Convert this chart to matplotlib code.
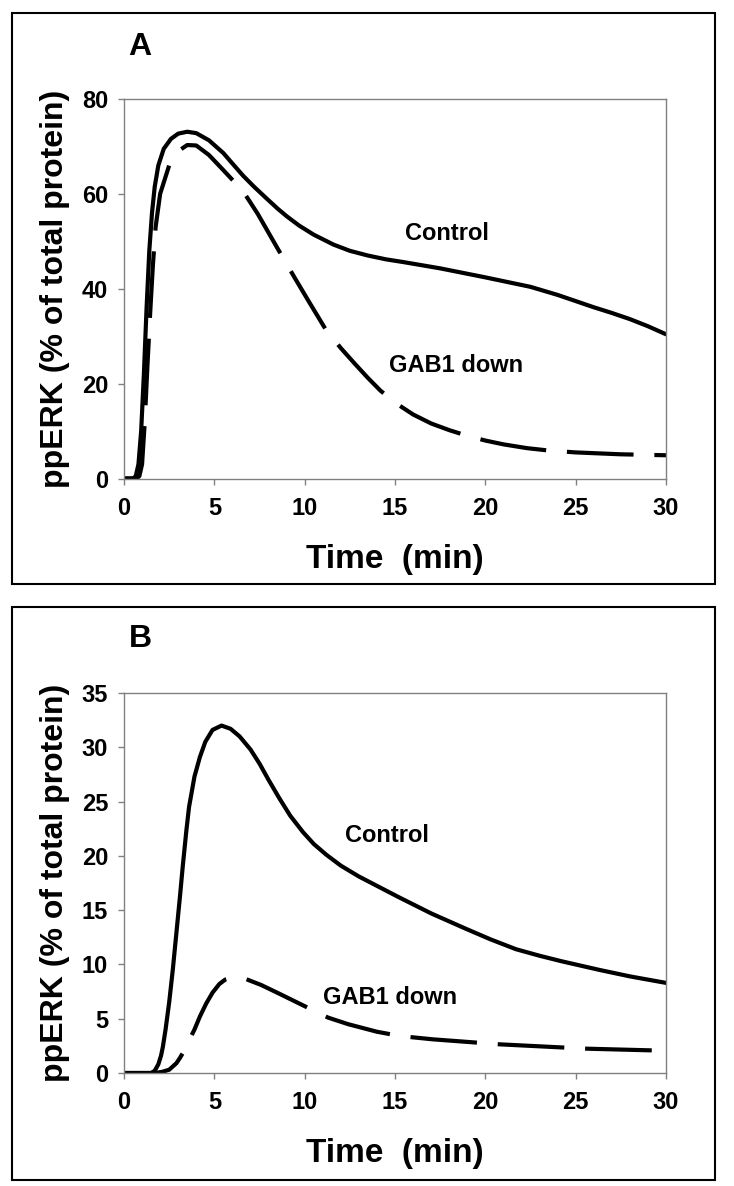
import matplotlib
matplotlib.use('Agg')
import matplotlib.pyplot as plt
from matplotlib.patches import Rectangle

plt.rcParams['font.family'] = ['Liberation Sans', 'DejaVu Sans']
plt.rcParams['font.weight'] = 'bold'

# panel A - time (min) and ppERK (% of total protein)
ctrl_a_t = [0, 0.5, 0.65, 0.8, 0.95, 1.1, 1.25, 1.4, 1.55, 1.7, 1.9, 2.2, 2.6, 3.0, 3.5, 4.0,
            4.7, 5.5, 6.0, 6.6, 7.2, 7.9, 8.5, 9.0, 9.7, 10.5, 11.6, 12.5, 13.5, 14.5, 15.5,
            17.5, 20, 21, 22.5, 24, 25, 26, 27, 28, 29, 30]
ctrl_a = [0, 0, 0.5, 3, 10, 22, 36, 48, 56, 61.5, 66, 69.5, 71.6, 72.7, 73.1, 72.8,
          71.3, 68.6, 66.4, 63.8, 61.5, 59.0, 56.9, 55.3, 53.3, 51.4, 49.3, 48.0, 47.0, 46.2, 45.6,
          44.3, 42.4, 41.6, 40.4, 38.7, 37.4, 36.1, 34.9, 33.6, 32.1, 30.4]

gab_a_t = [0, 0.7, 0.85, 1.0, 1.15, 1.3, 1.45, 1.6, 1.75, 2.0, 2.5, 3.0, 3.5, 4.0, 4.7, 5.5,
           6.6, 7.4, 8.5, 9.45, 10.2, 11.2, 12.0, 12.75, 13.5, 14.2, 15.2, 16, 17, 18, 19,
           20, 21, 22.3, 23.5, 25, 27.5, 30]
gab_a = [0, 0, 0.5, 3, 12, 24, 35, 45, 53, 60, 66, 69, 70.3, 70.2, 68.2, 65,
         60.5, 55.8, 48.5, 42.3, 37.5, 31.2, 27.5, 24.3, 21.2, 18.5, 15.5, 13.5, 11.6, 10.2, 9.0,
         8.0, 7.2, 6.4, 5.9, 5.5, 5.1, 4.9]

# panel B
ctrl_b_t = [0, 1.5, 1.7, 1.9, 2.05, 2.15, 2.3, 2.5, 2.7, 2.9, 3.1, 3.25, 3.45, 3.6, 3.9, 4.2,
            4.5, 4.9, 5.4, 5.9, 6.4, 7.0, 7.5, 8.0, 8.6, 9.2, 9.9, 10.5, 11.2, 12.0, 13.0,
            15.2, 17, 18.9, 20.3, 21.7, 23, 24.2, 26.3, 28, 30]
ctrl_b = [0, 0, 0.2, 0.8, 1.6, 2.4, 4.0, 6.5, 9.5, 12.9, 16.3, 19, 22.3, 24.5, 27.3, 29.1,
          30.5, 31.6, 32.0, 31.7, 31.0, 29.8, 28.5, 27.0, 25.3, 23.7, 22.2, 21.1, 20.1, 19.1, 18.1,
          16.2, 14.7, 13.3, 12.3, 11.4, 10.8, 10.3, 9.5, 8.9, 8.3]

gab_b_t = [0, 1.7, 2.1, 2.5, 2.9, 3.1, 3.35, 3.6, 3.9, 4.2, 4.55, 4.9, 5.28, 5.6, 6.0, 6.6,
           7.6, 8.6, 9.7, 11.3, 12.4, 14, 15.3, 17.1, 20.8, 25.6, 30]
gab_b = [0, 0, 0.1, 0.3, 0.9, 1.4, 2.1, 3.0, 4.0, 5.2, 6.4, 7.4, 8.2, 8.6, 8.8, 8.75,
         8.1, 7.3, 6.4, 5.1, 4.5, 3.8, 3.4, 3.1, 2.64, 2.24, 2.05]

x_ticks = [0, 5, 10, 15, 20, 25, 30]
y_ticks_a = [0, 20, 40, 60, 80]
y_ticks_b = [0, 5, 10, 15, 20, 25, 30, 35]

W, H = 734, 1186
fig = plt.figure(figsize=(W / 100, H / 100), dpi=100)


def px(x0, y0, x1, y1):
    # pixel box (top-left origin) -> figure fraction [l, b, w, h]
    return [x0 / W, 1 - y1 / H, (x1 - x0) / W, (y1 - y0) / H]


def panel(rect, box, letter, letter_y, t1, v1, t2, v2, yticks, ymax, lab1, lab2):
    fig.patches.append(Rectangle((box[0], box[1]), box[2], box[3], transform=fig.transFigure,
                                 fill=False, edgecolor='black', linewidth=1.5))
    ax = fig.add_axes(rect)
    ax.plot(t1, v1, color='black', lw=3, solid_capstyle='round', solid_joinstyle='round')
    ax.plot(t2, v2, color='black', lw=3, linestyle=(0, (16, 5)), dash_joinstyle='round')
    ax.set_xlim(0, 30)
    ax.set_ylim(0, ymax)
    ax.set_xticks(x_ticks)
    ax.set_yticks(yticks)
    for s in ax.spines.values():
        s.set_color('#808080')
        s.set_linewidth(1)
    ax.tick_params(axis='both', direction='out', length=4, width=1, color='#808080')
    ax.tick_params(axis='x', labelsize=17, pad=9)
    ax.tick_params(axis='y', labelsize=17, pad=7.5)
    ax.text(0.5, -0.235, 'Time  (min)', transform=ax.transAxes, ha='center', va='baseline',
            fontsize=24, fontweight='bold')
    ax.text(-0.112, 0.5, 'ppERK (% of total protein)', transform=ax.transAxes, rotation=90,
            rotation_mode='anchor', ha='center', va='baseline', fontsize=23, fontweight='bold')
    ax.text(lab1[0], lab1[1], 'Control', ha='center', va='baseline', fontsize=17, fontweight='bold')
    ax.text(lab2[0], lab2[1], 'GAB1 down', ha='center', va='baseline', fontsize=17, fontweight='bold')
    fig.text(140 / W, 1 - letter_y / H, letter, ha='center', va='baseline', fontsize=23,
             fontweight='bold')
    return ax


box_a = px(12, 13, 715, 584)
box_b = px(12, 607, 715, 1180)
panel(px(124, 99, 666, 478.5), box_a, 'A', 55,
      ctrl_a_t, ctrl_a, gab_a_t, gab_a, y_ticks_a, 80, (17.85, 50.3), (18.36, 22.5))
panel(px(124, 693, 666, 1073), box_b, 'B', 647,
      ctrl_b_t, ctrl_b, gab_b_t, gab_b, y_ticks_b, 35, (14.58, 21.3), (14.72, 6.36))

fig.savefig('out.png', dpi=100)
